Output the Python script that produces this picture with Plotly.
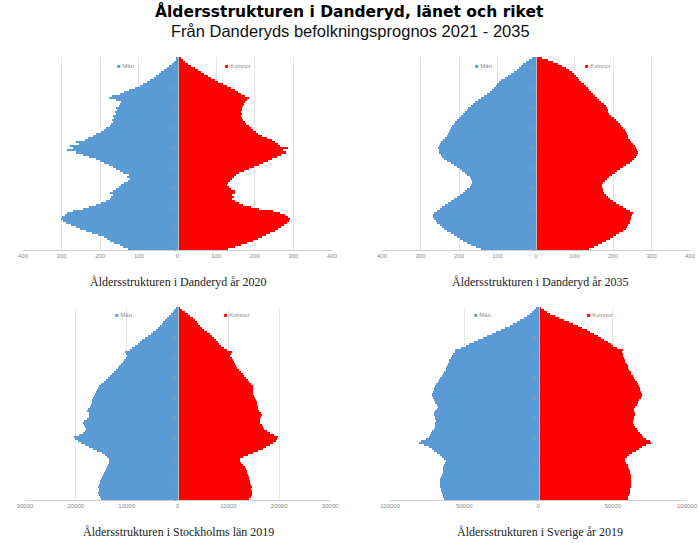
import plotly.graph_objects as go

# ---------------- data ----------------
ages = list(range(0, 96))

dand2020_men = [128, 140, 150, 165, 175, 182, 190, 205, 222, 238,
                252, 262, 275, 288, 296, 302, 298, 292, 285, 270,
                245, 228, 212, 198, 185, 176, 172, 168, 174, 166,
                160, 152, 146, 138, 128, 124, 130, 126, 142, 150,
                158, 166, 178, 190, 200, 212, 228, 245, 262, 285,
                270, 278, 255, 262, 240, 232, 220, 210, 198, 190,
                184, 176, 172, 168, 170, 164, 166, 160, 162, 156,
                158, 152, 150, 146, 160, 178, 170, 150, 138, 125,
                110, 98, 90, 80, 70, 62, 55, 48, 42, 35,
                28, 22, 15, 9, 5, 3]
dand2020_women = [132, 150, 165, 180, 195, 208, 218, 228, 240, 252,
                  260, 268, 275, 284, 288, 292, 286, 278, 265, 248,
                  212, 190, 170, 158, 150, 140, 146, 142, 150, 148,
                  138, 134, 128, 132, 136, 140, 146, 152, 160, 172,
                  186, 198, 210, 222, 235, 245, 258, 268, 280, 272,
                  285, 266, 260, 252, 244, 232, 218, 208, 202, 195,
                  190, 184, 178, 175, 170, 166, 164, 166, 164, 168,
                  166, 170, 172, 176, 180, 186, 175, 165, 156, 148,
                  138, 128, 118, 106, 96, 86, 78, 68, 60, 52,
                  44, 36, 28, 20, 14, 10]

dand2035_men = [142, 155, 168, 180, 190, 198, 205, 214, 222, 230,
                238, 244, 250, 256, 261, 265, 268, 268, 264, 258,
                250, 244, 236, 228, 220, 212, 204, 198, 190, 185,
                178, 172, 168, 166, 166, 168, 172, 178, 185, 192,
                198, 205, 212, 222, 230, 238, 243, 248, 251, 253,
                254, 252, 249, 246, 242, 237, 232, 229, 226, 223,
                220, 217, 214, 211, 205, 200, 194, 190, 185, 180,
                176, 170, 164, 158, 150, 142, 134, 128, 120, 115,
                110, 105, 101, 97, 90, 80, 72, 65, 57, 50,
                45, 40, 34, 27, 18, 10]
dand2035_women = [138, 150, 162, 172, 182, 191, 199, 208, 216, 225,
                  233, 237, 240, 243, 245, 247, 248, 250, 251, 244,
                  235, 226, 216, 208, 200, 193, 186, 181, 177, 174,
                  173, 172, 172, 174, 178, 184, 190, 197, 204, 210,
                  217, 226, 235, 243, 249, 255, 260, 263, 265, 263,
                  260, 256, 252, 247, 243, 240, 238, 236, 234, 230,
                  225, 221, 217, 212, 208, 202, 196, 190, 188, 186,
                  184, 182, 176, 170, 164, 158, 152, 147, 142, 138,
                  134, 129, 124, 118, 112, 108, 103, 98, 94, 86,
                  77, 68, 58, 45, 30, 16]

sthlm2019_men = [15100, 15300, 15500, 15600, 15500, 15500, 15600, 15500, 15300, 15200,
                 15100, 14900, 14700, 14500, 14300, 14100, 13900, 13700, 13500, 13400,
                 13500, 13800, 14300, 14900, 15800, 16700, 17400, 18200, 18900, 19500,
                 20100, 20300, 19400, 18500, 18200, 18000, 18100, 18400, 18600, 18300,
                 17900, 17500, 17400, 17500, 17800, 17600, 17300, 17100, 16900, 16800,
                 16600, 16400, 16200, 16000, 15800, 15600, 15400, 15000, 14500, 14100,
                 13700, 13200, 12800, 12400, 12100, 11800, 11500, 11200, 10800, 10500,
                 10200, 10000, 10200, 10400, 9400, 8900, 8400, 7800, 7300, 6900,
                 6400, 5800, 5300, 4800, 4300, 3900, 3500, 3100, 2800, 2500,
                 2100, 1700, 1300, 900, 600, 350]
sthlm2019_women = [14100, 14400, 14600, 14700, 14600, 14500, 14600, 14500, 14300, 14200,
                   14100, 14000, 13900, 13700, 13600, 13500, 13200, 12900, 12500, 12300,
                   12300, 12900, 13800, 14800, 15900, 16800, 17500, 18200, 18800, 19300,
                   19600, 19700, 18900, 18200, 17600, 17100, 16800, 16600, 16300, 16200,
                   16300, 16500, 16600, 16400, 16100, 15900, 15800, 15700, 15600, 15500,
                   15300, 15100, 14900, 14800, 14800, 14900, 14800, 14500, 14100, 13800,
                   13500, 13100, 12800, 12400, 12000, 11700, 11500, 11300, 11100, 10900,
                   10700, 10400, 10500, 10700, 9700, 9100, 8600, 8200, 7900, 7600,
                   7200, 6700, 6300, 5800, 5300, 4900, 4500, 4100, 3800, 3500,
                   3000, 2500, 2000, 1400, 900, 500]

sverige2019_men = [63500, 64000, 64500, 65000, 65500, 65500, 66000, 66000, 66500, 66000,
                   66000, 65500, 65000, 64500, 64500, 64500, 64000, 63500, 63000, 62500,
                   63500, 65000, 66500, 68500, 70500, 72000, 74000, 77000, 80500, 79000,
                   76000, 74000, 73000, 72500, 71500, 70500, 70000, 69500, 69500, 69000,
                   69500, 70000, 70500, 70500, 69500, 68500, 68000, 68500, 69500, 70500,
                   71000, 71500, 71500, 71000, 70500, 70500, 70000, 69000, 68000, 67000,
                   66000, 65000, 64500, 63500, 62500, 62000, 61500, 61000, 60500, 60000,
                   59000, 58000, 57500, 56000, 56500, 52000, 49000, 46500, 43500, 40500,
                   37500, 34500, 31500, 28500, 25500, 22500, 19500, 17000, 14500, 12500,
                   10000, 8000, 6000, 4500, 3000, 2000]
sverige2019_women = [60000, 60500, 61000, 61500, 61500, 61500, 62000, 62500, 62500, 62500,
                     62500, 62000, 62000, 61500, 61500, 61000, 60500, 60000, 59000, 58000,
                     58500, 59500, 61000, 63000, 65500, 67500, 69500, 72500, 76000, 75000,
                     72500, 70500, 69500, 68500, 67000, 66000, 65000, 64000, 63500, 63500,
                     64000, 64500, 65000, 65000, 64500, 64500, 65000, 66000, 67000, 68000,
                     69000, 69500, 69500, 69000, 68500, 68500, 68000, 67000, 66000, 65000,
                     64000, 63500, 62500, 62000, 61000, 60500, 60000, 59500, 58500, 58000,
                     57500, 57000, 57000, 56500, 57000, 53000, 50500, 48500, 46500, 44000,
                     42000, 40000, 37500, 35000, 32500, 29500, 26500, 23500, 20500, 17000,
                     14000, 11000, 8000, 5500, 3500, 2000]

dand_ticks = [-400, -300, -200, -100, 0, 100, 200, 300, 400]
sthlm_ticks = [-30000, -20000, -10000, 0, 10000, 20000, 30000]
sverige_ticks = [-100000, -50000, 0, 50000, 100000]
age_ticks = [0, 10, 20, 30, 40, 50, 60, 70, 80, 90]

panel_titles = ["Åldersstrukturen i Danderyd år 2020",
                "Åldersstrukturen i Danderyd år 2035",
                "Åldersstrukturen i Stockholms län 2019",
                "Åldersstrukturen i Sverige år 2019"]
series_names = ["Män", "Kvinnor"]

# ---------------- layout helpers ----------------
W, H = 699, 543
BLUE = "#5B9BD5"
RED = "#FF0000"


def px_x(p):
    return p / W


def px_y(p):
    return 1 - p / H


panels = [
    (dand2020_men, dand2020_women, dand_ticks, (23, 332), (57, 250), (125, 238, 66), (178, 282)),
    (dand2035_men, dand2035_women, dand_ticks, (382, 690), (57, 250), (483, 598, 66), (540, 282)),
    (sthlm2019_men, sthlm2019_women, sthlm_ticks, (25, 330), (307, 500), (123, 237, 315), (178, 532)),
    (sverige2019_men, sverige2019_women, sverige_ticks, (390, 687), (307, 500), (482, 600, 315), (540, 532)),
]

fig = go.Figure()
annotations = []
layout_axes = {}


def note(x, y, text, font):
    return dict(x=px_x(x), y=px_y(y), xref="paper", yref="paper", showarrow=False,
                xanchor="center", yanchor="middle", text=text, font=font)


for i, (men, women, ticks, xd, yd, leg, tpos) in enumerate(panels):
    n = i + 1
    xa = "x" if n == 1 else f"x{n}"
    ya = "y" if n == 1 else f"y{n}"
    fig.add_trace(go.Bar(y=ages, x=[-v for v in men], orientation="h", name=series_names[0],
                         marker=dict(color=BLUE, line=dict(width=0)), xaxis=xa, yaxis=ya,
                         showlegend=False))
    fig.add_trace(go.Bar(y=ages, x=women, orientation="h", name=series_names[1],
                         marker=dict(color=RED, line=dict(width=0)), xaxis=xa, yaxis=ya,
                         showlegend=False))
    xdom = [px_x(xd[0]), px_x(xd[1])]
    ydom = [px_y(yd[1]), px_y(yd[0])]
    xkey = "xaxis" if n == 1 else f"xaxis{n}"
    ykey = "yaxis" if n == 1 else f"yaxis{n}"
    layout_axes[xkey] = dict(
        domain=xdom, anchor=ya, range=[ticks[0], ticks[-1]],
        tickvals=ticks, ticktext=[f"{abs(t)}" for t in ticks],
        tickfont=dict(family="Liberation Sans", size=6, color="#8a8a8a"),
        showgrid=True, gridcolor="#e6e6e6", gridwidth=1,
        showline=True, linecolor="#d0d0d0", linewidth=1,
        zeroline=False, ticks="", fixedrange=True, automargin=False,
    )
    layout_axes[ykey] = dict(
        domain=ydom, anchor="free", position=(xdom[0] + xdom[1]) / 2,
        range=[-0.5, 95.5], tickvals=age_ticks,
        tickfont=dict(family="Liberation Sans", size=5, color="#7f9fbf"),
        showgrid=False, zeroline=False, showline=True, linecolor="#bdbdbd", linewidth=1,
        ticks="", fixedrange=True, automargin=False,
    )
    legfont = dict(family="Liberation Sans", size=6, color="#8a8a8a")
    annotations.append(note(leg[0], leg[2],
                            f"<span style='color:{BLUE}'>■</span> {series_names[0]}", legfont))
    annotations.append(note(leg[1], leg[2],
                            f"<span style='color:{RED}'>■</span> {series_names[1]}", legfont))
    annotations.append(note(tpos[0], tpos[1], panel_titles[i],
                            dict(family="Liberation Serif", size=12, color="#222222")))

annotations.append(note(349, 12, "<b>Åldersstrukturen i Danderyd, länet och riket</b>",
                        dict(family="DejaVu Sans", size=15.5, color="#000000")))
annotations.append(note(350, 31, "Från Danderyds befolkningsprognos 2021 - 2035",
                        dict(family="Liberation Sans", size=16.5, color="#111111")))

fig.update_layout(
    width=W, height=H,
    margin=dict(l=0, r=0, t=0, b=0, pad=0, autoexpand=False),
    paper_bgcolor="white", plot_bgcolor="white",
    barmode="overlay", bargap=0,
    annotations=annotations,
    showlegend=False,
    hovermode=False,
    **layout_axes,
)

fig.write_html("out.html", config={"displayModeBar": False, "staticPlot": True},
               post_script="document.body.style.margin='0';document.body.style.padding='0';")
